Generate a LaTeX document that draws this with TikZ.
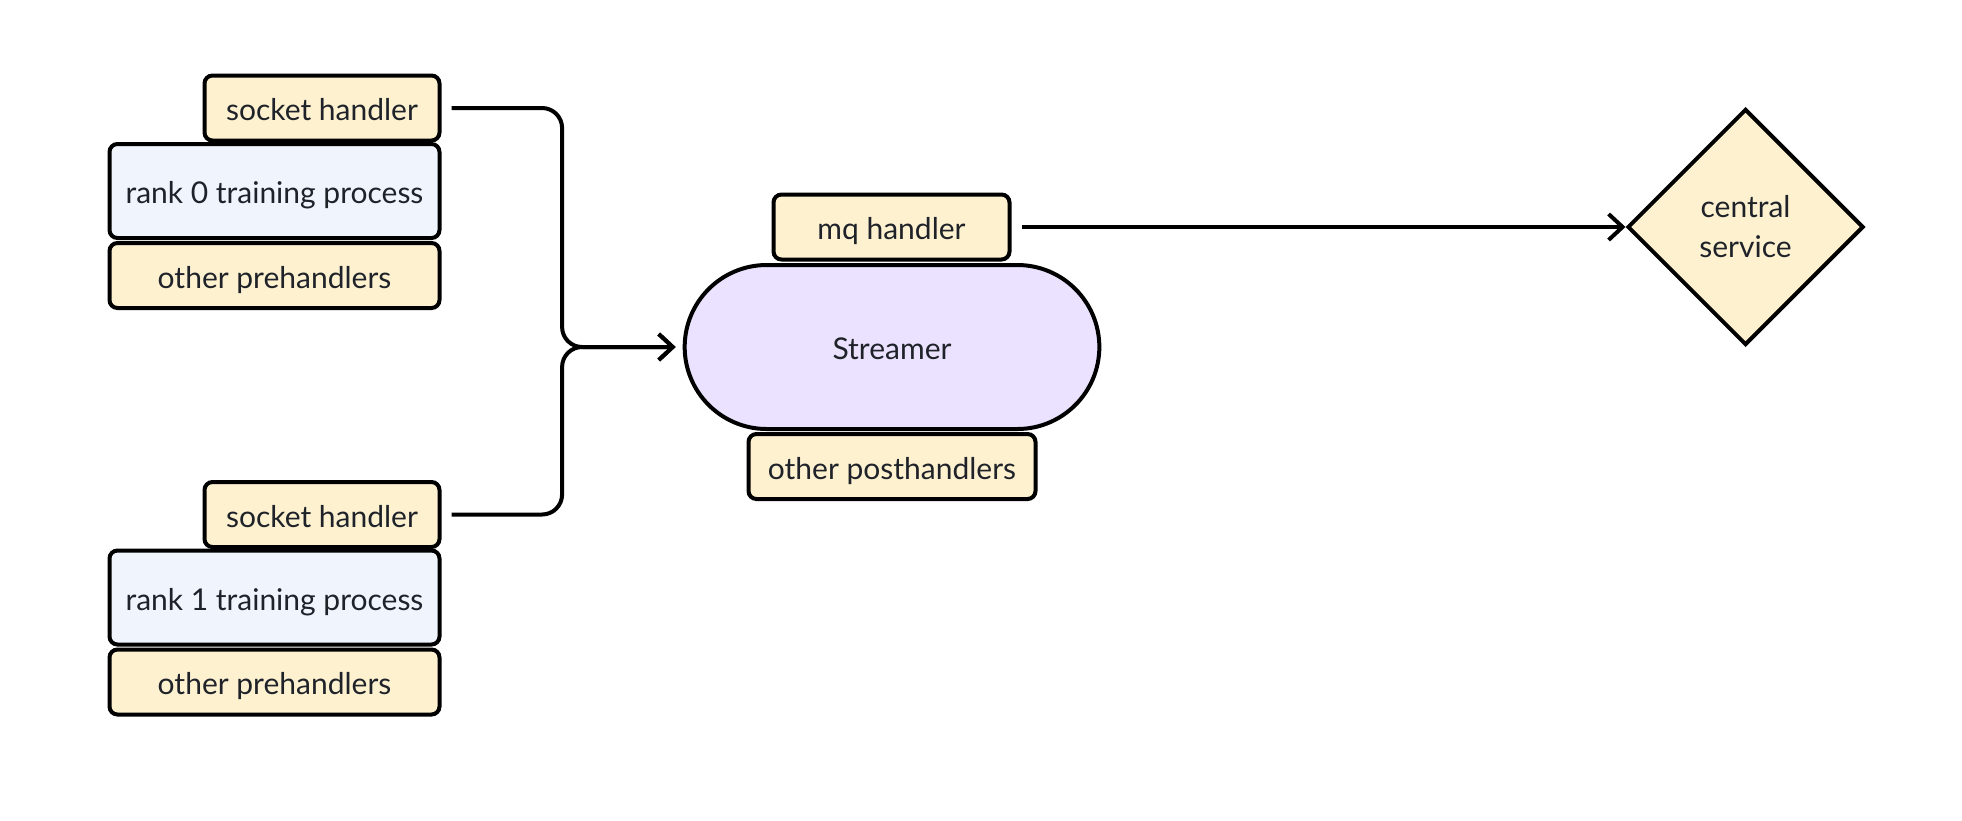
\documentclass[tikz,border=0pt]{standalone}
\usepackage{fontspec}
\setmainfont{Lato}
\usetikzlibrary{arrows.meta, shapes.geometric, shapes.misc, calc}
\definecolor{handlerfill}{HTML}{FDF1D0}
\definecolor{procfill}{HTML}{EFF4FD}
\definecolor{streamfill}{HTML}{EAE2FE}
\definecolor{inkgray}{HTML}{1F2329}

\begin{document}
\begin{tikzpicture}[x=0.5pt, y=-0.5pt, line width=2pt,
    every node/.style={font=\fontsize{15}{20}\selectfont, text=inkgray},
    lowtext/.style={text height=13.2pt, text depth=0.3pt},
    box/.style={draw, rounded corners=4pt, inner sep=0pt, lowtext},
    handler/.style={box, fill=handlerfill, minimum height=32.5pt},
    proc/.style={box, fill=procfill, minimum width=165pt, minimum height=47pt},
    conn/.style={rounded corners=10pt, -{Straight Barb[length=7pt,width=13pt]}, shorten <=5pt}]
    \useasboundingbox (0,0) rectangle (1962,820);
    % training processes with their handlers
    \foreach \r/\dy in {0/0,1/406.5} {
        \node[handler, minimum width=117.5pt] (sock\r) at (322,108+\dy) {socket handler};
        \node[proc] (rank\r) at (274.5,191+\dy) {rank \r\ training process};
        \node[handler, minimum width=165pt] (pre\r) at (274.5,275.5+\dy) {other prehandlers};
    }
    % streamer
    \node[rounded rectangle, draw, fill=streamfill, minimum width=214pt, minimum height=82pt, lowtext] (stream) at (892,347) {Streamer};
    \node[handler, minimum width=118pt] (mq) at (891.5,227) {mq handler};
    \node[handler, minimum width=143.5pt] (post) at (892,466.5) {other posthandlers};
    \node[diamond, draw, fill=handlerfill, minimum size=118pt, inner sep=0pt, align=center] (central) at (1745.5,227) {central\\service};
    % connectors
    \coordinate (join) at ($(sock0.east)!0.5!(stream.west)$);
    \foreach \r in {0,1}
        \draw[conn, shorten >=3.5pt] (sock\r.east) -| (join |- stream.west) -- (stream.west);
    \draw[conn] (mq.east) -- (central.west);
\end{tikzpicture}
\end{document}
